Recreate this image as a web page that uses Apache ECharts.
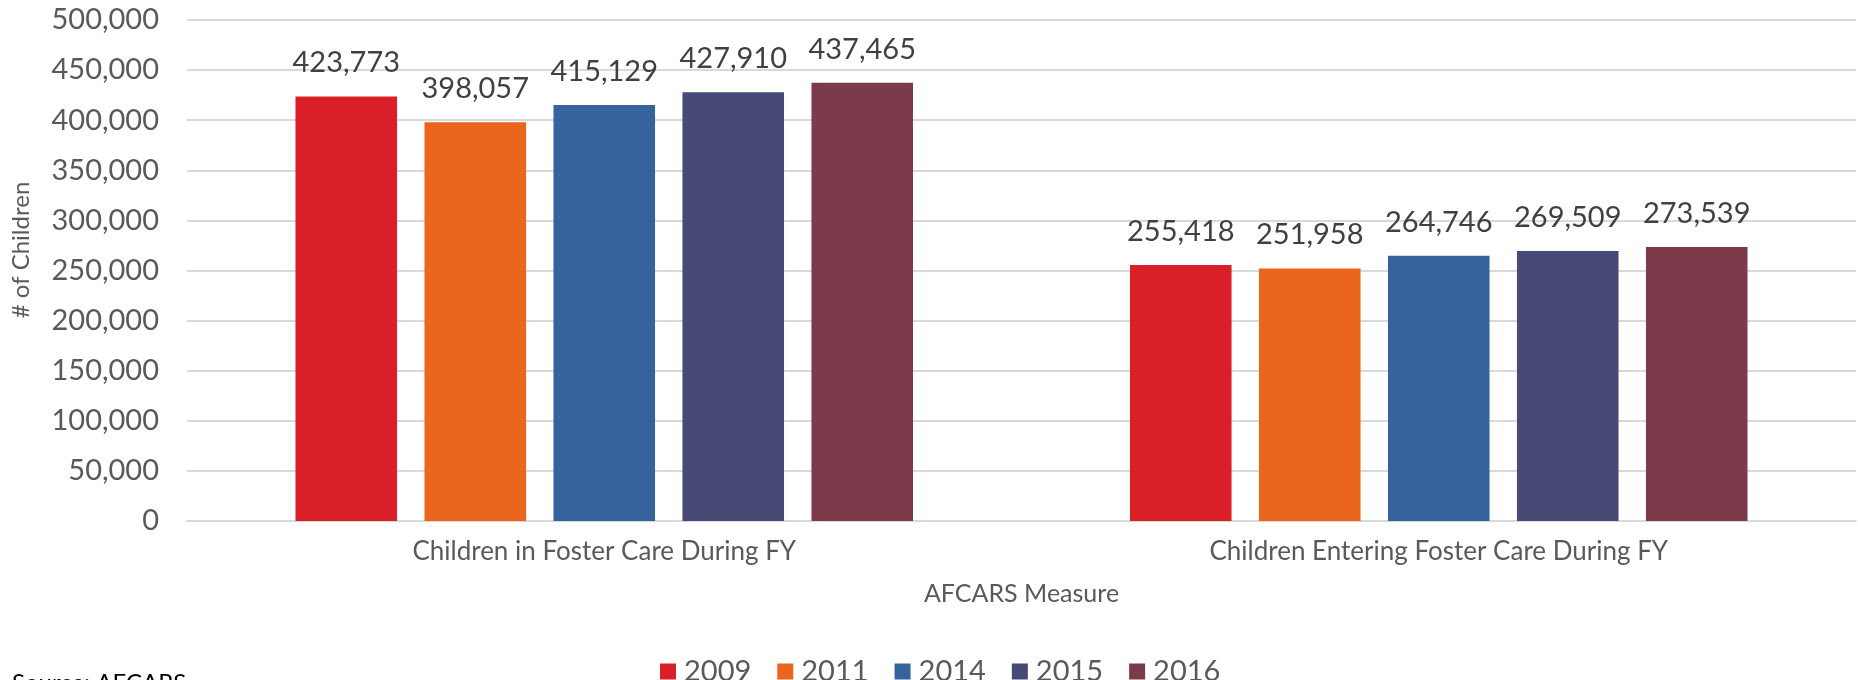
<!DOCTYPE html>
<html>
<head>
<meta charset="utf-8">
<script src="https://cdn.jsdelivr.net/npm/echarts@6/dist/echarts.min.js"></script>
<style>
html,body{margin:0;padding:0;background:#fff;}
#chart{width:1858px;height:680px;}
</style>
</head>
<body>
<div id="chart"></div>
<script>
const categories = ['Children in Foster Care During FY', 'Children Entering Foster Care During FY'];
const years = ['2009', '2011', '2014', '2015', '2016'];
const v2009 = [423773, 255418];
const v2011 = [398057, 251958];
const v2014 = [415129, 264746];
const v2015 = [427910, 269509];
const v2016 = [437465, 273539];
const seriesValues = [v2009, v2011, v2014, v2015, v2016];
const colors = ['#DA1F28', '#EA651E', '#37639C', '#474A77', '#7C3B4A'];
const yTicks = {min: 0, max: 500000, interval: 50000};

const FONT = 'Lato';
const fmt = v => v.toLocaleString('en-US');

const chart = echarts.init(document.getElementById('chart'));
chart.setOption({
  animation: false,
  color: colors,
  textStyle: {fontFamily: FONT},
  grid: {left: 187, right: 2, top: 20, bottom: 159, containLabel: false},
  legend: {
    data: years,
    left: 655,
    top: 652,
    itemWidth: 16,
    itemHeight: 16,
    itemGap: 26,
    icon: 'rect',
    textStyle: {fontFamily: FONT, fontSize: 29, color: '#595959', padding: [0, 0, 0, 3]}
  },
  xAxis: {
    type: 'category',
    data: categories,
    name: 'AFCARS Measure',
    nameLocation: 'middle',
    nameGap: 60,
    nameTextStyle: {fontFamily: FONT, fontSize: 25, color: '#595959'},
    axisLine: {show: true, lineStyle: {color: '#D9D9D9', width: 2}},
    axisTick: {show: false},
    axisLabel: {fontFamily: FONT, fontSize: 26, color: '#595959', margin: 18}
  },
  yAxis: {
    type: 'value',
    min: yTicks.min,
    max: yTicks.max,
    interval: yTicks.interval,
    axisLine: {show: false},
    axisTick: {show: false},
    splitLine: {lineStyle: {color: '#D9D9D9', width: 2}},
    axisLabel: {fontFamily: FONT, fontSize: 29, color: '#595959', margin: 28, formatter: v => fmt(v)}
  },
  graphic: [
    {
      type: 'text',
      x: 21, y: 250,
      rotation: Math.PI / 2,
      style: {text: '# of Children', fontFamily: FONT, fontSize: 24, fill: '#595959', align: 'center', verticalAlign: 'middle'}
    },
    {
      type: 'text',
      left: 12, top: 671,
      style: {text: 'Source: AFCARS', fontFamily: FONT, fontSize: 24, fill: '#000'}
    }
  ],
  series: years.map((y, i) => ({
    name: y,
    type: 'bar',
    data: seriesValues[i],
    barGap: '27%',
    barCategoryGap: '26%',
    label: {
      show: true,
      position: 'top',
      distance: 19,
      fontFamily: FONT,
      fontSize: 29,
      color: '#404040',
      formatter: p => fmt(p.value)
    }
  }))
});
</script>
</body>
</html>
